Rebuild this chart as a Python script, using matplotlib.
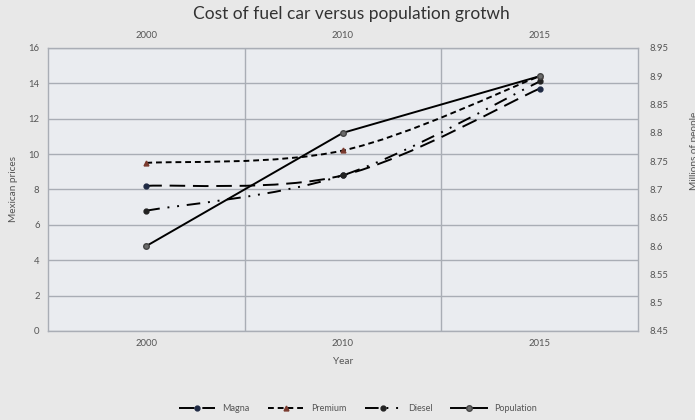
import matplotlib
matplotlib.use("Agg")
import matplotlib.pyplot as plt
from matplotlib.path import Path
from matplotlib.patches import PathPatch
from matplotlib.lines import Line2D
import numpy as np

plt.rcParams['font.family'] = ['Lato', 'DejaVu Sans']

years = ["2000", "2010", "2015"]
magna = [8.2, 8.8, 13.7]
premium = [9.5, 10.2, 14.4]
diesel = [6.8, 8.8, 14.1]
population = [8.60, 8.80, 8.90]

left_ticks = [0, 2, 4, 6, 8, 10, 12, 14, 16]
right_ticks = [8.45, 8.5, 8.55, 8.6, 8.65, 8.7, 8.75, 8.8, 8.85, 8.9, 8.95]


def smooth_path(xs, ys):
    """Cubic Bezier path through the points (spreadsheet-style smoothed line)."""
    pts = np.column_stack([xs, ys]).astype(float)
    n = len(pts)
    verts = [pts[0]]
    codes = [Path.MOVETO]
    for i in range(n - 1):
        p0 = pts[i - 1] if i > 0 else pts[i]
        p1, p2 = pts[i], pts[i + 1]
        p3 = pts[i + 2] if i + 2 < n else pts[i + 1]
        c1 = p1 + (p2 - p0) / 6.0
        c2 = p2 - (p3 - p1) / 6.0
        verts += [c1, c2, p2]
        codes += [Path.CURVE4] * 3
    return Path(verts, codes)


def draw_series(axis, xs, ys, dashes, marker, mfc, mec, ms, label, smooth=True):
    ls = (0, dashes) if dashes else "-"
    if smooth:
        patch = PathPatch(smooth_path(xs, ys), facecolor="none", edgecolor="black",
                          lw=1.4, linestyle=ls, zorder=3)
        axis.add_patch(patch)
    else:
        axis.plot(xs, ys, color="black", lw=1.4, linestyle=ls, zorder=3)
    axis.plot(xs, ys, linestyle="none", marker=marker, ms=ms, mfc=mfc, mec=mec, zorder=4)
    kw = dict(dashes=dashes) if dashes else dict(linestyle="-")
    return Line2D([], [], color="black", lw=1.4, marker=marker, ms=ms,
                  mfc=mfc, mec=mec, label=label, **kw)


fig = plt.figure(figsize=(6.95, 4.2), dpi=100, facecolor="#e8e8e8")
ax = fig.add_axes([0.069, 0.212, 0.849, 0.674])
ax.set_facecolor("#eaecf0")

x = np.arange(len(years))
grid_c = "#a9adb5"
text_c = "#555555"

h1 = draw_series(ax, x, magna, (8, 4), "o", "#1f2a44", "#1f2a44", 3.5, "Magna")
h2 = draw_series(ax, x, premium, (3, 2), "^", "#7a3a2e", "#7a3a2e", 3.5, "Premium")
h3 = draw_series(ax, x, diesel, (7, 4, 1, 4, 1, 4), "o", "#222222", "#222222", 3.5, "Diesel")

ax.set_xlim(-0.5, 2.5)
ax.set_ylim(0, 16)
ax.set_yticks(left_ticks)
ax.set_xticks(x)
ax.set_xticklabels(years)
ax.yaxis.grid(True, color=grid_c, lw=1.0)
for b in [0.5, 1.5]:
    ax.axvline(b, color=grid_c, lw=1.0, zorder=0.5)
ax.set_axisbelow(True)
ax.tick_params(axis="both", length=0, labelsize=6.8, colors=text_c, pad=6)
for s in ax.spines.values():
    s.set_color(grid_c)
    s.set_linewidth(1.0)
ax.set_xlabel("Year", fontsize=7.2, color=text_c, labelpad=6)
ax.set_ylabel("Mexican prices", fontsize=7.2, color=text_c, labelpad=8)

# population on the right axis
ax2 = ax.twinx()
h4 = draw_series(ax2, x, population, None, "o", "#6b6b6b", "#444444", 4, "Population",
                 smooth=False)
ax2.set_ylim(8.45, 8.95)
ax2.set_yticks(right_ticks)
ax2.set_yticklabels([f"{t:g}" for t in right_ticks])
ax2.tick_params(axis="y", length=0, labelsize=6.8, colors=text_c, pad=8)
for s in ax2.spines.values():
    s.set_visible(False)

# year labels repeated along the top
ax3 = ax.twiny()
ax3.set_xlim(ax.get_xlim())
ax3.set_xticks(x)
ax3.set_xticklabels(years)
ax3.tick_params(axis="x", length=0, labelsize=6.8, colors=text_c, pad=6)
for s in ax3.spines.values():
    s.set_visible(False)

fig.text(0.505, 0.985, "Cost of fuel car versus population grotwh",
         ha="center", va="top", fontsize=12.5, color="#333333")
fig.text(0.993, 0.64, "Millions of people", rotation=90, ha="left", va="center",
         fontsize=7.2, color=text_c)

fig.legend(handles=[h1, h2, h3, h4], loc="center", bbox_to_anchor=(0.515, 0.027),
           ncol=4, frameon=False, fontsize=6.5, handlelength=4, columnspacing=2.0,
           labelcolor=text_c)

fig.savefig("out.png", dpi=100, facecolor=fig.get_facecolor())
